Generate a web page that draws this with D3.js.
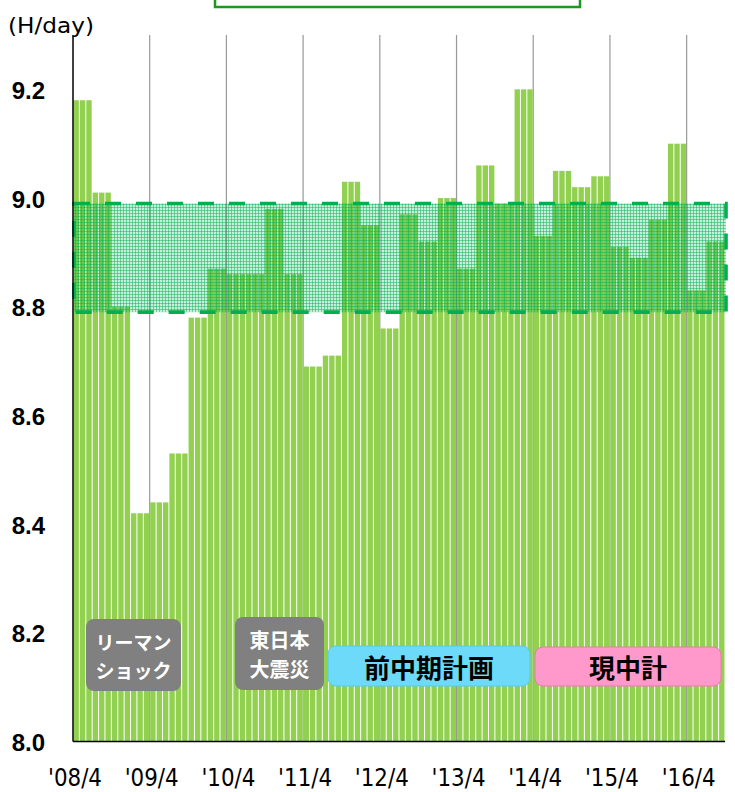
<!DOCTYPE html>
<html>
<head>
<meta charset="utf-8">
<script src="https://cdn.jsdelivr.net/npm/d3@7"></script>
<style>
  body { margin: 0; background: #fff; }
  svg { display: block; }
</style>
</head>
<body>
<script>
// quarterly data, each quarter drawn as 3 monthly bars
const quarters = ["'08/4","'08/7","'08/10","'09/1","'09/4","'09/7","'09/10","'10/1",
  "'10/4","'10/7","'10/10","'11/1","'11/4","'11/7","'11/10","'12/1",
  "'12/4","'12/7","'12/10","'13/1","'13/4","'13/7","'13/10","'14/1",
  "'14/4","'14/7","'14/10","'15/1","'15/4","'15/7","'15/10","'16/1",
  "'16/4","'16/7"];
const hours = [9.18, 9.01, 8.80, 8.42, 8.44, 8.53, 8.78, 8.87,
  8.86, 8.86, 8.98, 8.86, 8.69, 8.71, 9.03, 8.95,
  8.76, 8.97, 8.92, 9.00, 8.87, 9.06, 8.99, 9.20,
  8.93, 9.05, 9.02, 9.04, 8.91, 8.89, 8.96, 9.10,
  8.83, 8.92];
const months = [0, 1, 2];
const xTicks = ["'08/4","'09/4","'10/4","'11/4","'12/4","'13/4","'14/4","'15/4","'16/4"];
const yTicks = [8.0, 8.2, 8.4, 8.6, 8.8, 9.0, 9.2];
const targetBand = [8.79, 8.99];

const w = 735, h = 792;
const padL = 73, padR = 725, padB = 741.5, padT = 35;

const svg = d3.select('body').append('svg')
  .attr('width', w).attr('height', h);

const xScale = d3.scaleBand().domain(quarters).range([padL, padR]).padding(0);
const subScale = d3.scaleBand().domain(months).range([0, xScale.bandwidth()])
  .paddingInner(0.16).paddingOuter(0.08);
const yScale = d3.scaleLinear().domain([8.0, 9.3]).range([padB, padT]);

// hatch pattern for target band
const defs = svg.append('defs');
const pat = defs.append('pattern')
  .attr('id', 'grid').attr('width', 3).attr('height', 3)
  .attr('patternUnits', 'userSpaceOnUse');
pat.append('rect').attr('width', 3).attr('height', 3).attr('fill', 'rgba(0,176,80,0.22)');
pat.append('rect').attr('width', 3).attr('height', 1).attr('fill', 'rgba(0,176,80,0.45)');
pat.append('rect').attr('width', 1).attr('height', 3).attr('fill', 'rgba(0,176,80,0.45)');

// top box (cut off)
svg.append('rect')
  .attr('x', 215).attr('y', -30).attr('width', 365).attr('height', 37)
  .attr('fill', '#fff').attr('stroke', '#1f961f').attr('stroke-width', 2.5);

// year gridlines
svg.selectAll('.vgrid')
  .data(xTicks.slice(1))
  .enter().append('line')
  .attr('class', 'vgrid')
  .attr('x1', d => xScale(d)).attr('x2', d => xScale(d))
  .attr('y1', padT).attr('y2', padB)
  .attr('stroke', '#999').attr('stroke-width', 1.2);

// bars
const qg = svg.selectAll('.q')
  .data(quarters.map((q, i) => ({q: q, v: hours[i]})))
  .enter().append('g')
  .attr('class', 'q')
  .attr('transform', d => 'translate(' + xScale(d.q) + ',0)');
qg.selectAll('rect')
  .data(d => months.map(m => ({m: m, v: d.v})))
  .enter().append('rect')
  .attr('x', d => subScale(d.m))
  .attr('y', d => yScale(d.v))
  .attr('width', subScale.bandwidth())
  .attr('height', d => padB - yScale(d.v))
  .attr('fill', '#92d050');

// target band
svg.append('rect')
  .attr('x', padL + 1).attr('y', yScale(targetBand[1]))
  .attr('width', padR - padL).attr('height', yScale(targetBand[0]) - yScale(targetBand[1]))
  .attr('fill', 'url(#grid)')
  .attr('stroke', '#00b050').attr('stroke-width', 3.6)
  .attr('stroke-dasharray', '16,15');

// annotations
function note(x, y, bw, bh, fill, stroke, lines, color, size, lineH) {
  svg.append('rect')
    .attr('x', x).attr('y', y).attr('width', bw).attr('height', bh)
    .attr('rx', 8).attr('fill', fill).attr('stroke', stroke).attr('stroke-width', 1);
  const cy = y + bh / 2 - (lines.length - 1) * lineH / 2;
  lines.forEach((t, i) => {
    svg.append('text')
      .attr('x', x + bw / 2).attr('y', cy + i * lineH)
      .attr('text-anchor', 'middle').attr('dominant-baseline', 'central')
      .attr('fill', color)
      .attr('font-family', "'Noto Sans CJK JP', sans-serif")
      .attr('font-weight', 'bold').attr('font-size', size)
      .text(t);
  });
}
note(86, 619, 95, 72, '#808080', 'none', ['リーマン', 'ショック'], '#fff', 19, 28);
note(235, 617, 89, 73, '#808080', 'none', ['東日本', '大震災'], '#fff', 20, 29);
note(328, 646, 202, 40, '#6cdaf8', '#5cc8e8', ['前中期計画'], '#000', 26, 0);
note(535, 647, 186, 39, '#ff99cc', '#e97aa8', ['現中計'], '#000', 26, 0);

// axes lines
svg.append('line')
  .attr('x1', padL).attr('x2', padL).attr('y1', padT).attr('y2', padB)
  .attr('stroke', '#000').attr('stroke-width', 1.5);
svg.append('line')
  .attr('x1', padL).attr('x2', padR).attr('y1', padB).attr('y2', padB)
  .attr('stroke', '#000').attr('stroke-width', 1.5);

// y labels
const yAxis = d3.axisLeft(yScale).tickValues(yTicks).tickSize(0).tickPadding(28)
  .tickFormat(d3.format('.1f'));
const ya = svg.append('g').attr('transform', 'translate(' + padL + ',1.5)').call(yAxis);
ya.select('.domain').remove();
ya.selectAll('text')
  .attr('font-family', "'Liberation Sans', Arial, sans-serif")
  .attr('font-weight', 'bold').attr('font-size', 24).attr('fill', '#000');

// x labels
svg.selectAll('.xlab')
  .data(xTicks)
  .enter().append('text')
  .attr('class', 'xlab')
  .attr('x', d => xScale(d) + 2)
  .attr('y', 786)
  .attr('text-anchor', 'middle')
  .attr('font-family', "'DejaVu Sans', sans-serif")
  .attr('font-size', 24)
  .attr('textLength', 54).attr('lengthAdjust', 'spacingAndGlyphs')
  .text(d => d);

// unit
svg.append('text')
  .attr('x', 8).attr('y', 33)
  .attr('font-family', "'DejaVu Sans', sans-serif")
  .attr('font-size', 22)
  .attr('textLength', 86).attr('lengthAdjust', 'spacingAndGlyphs')
  .text('(H/day)');
</script>
</body>
</html>
